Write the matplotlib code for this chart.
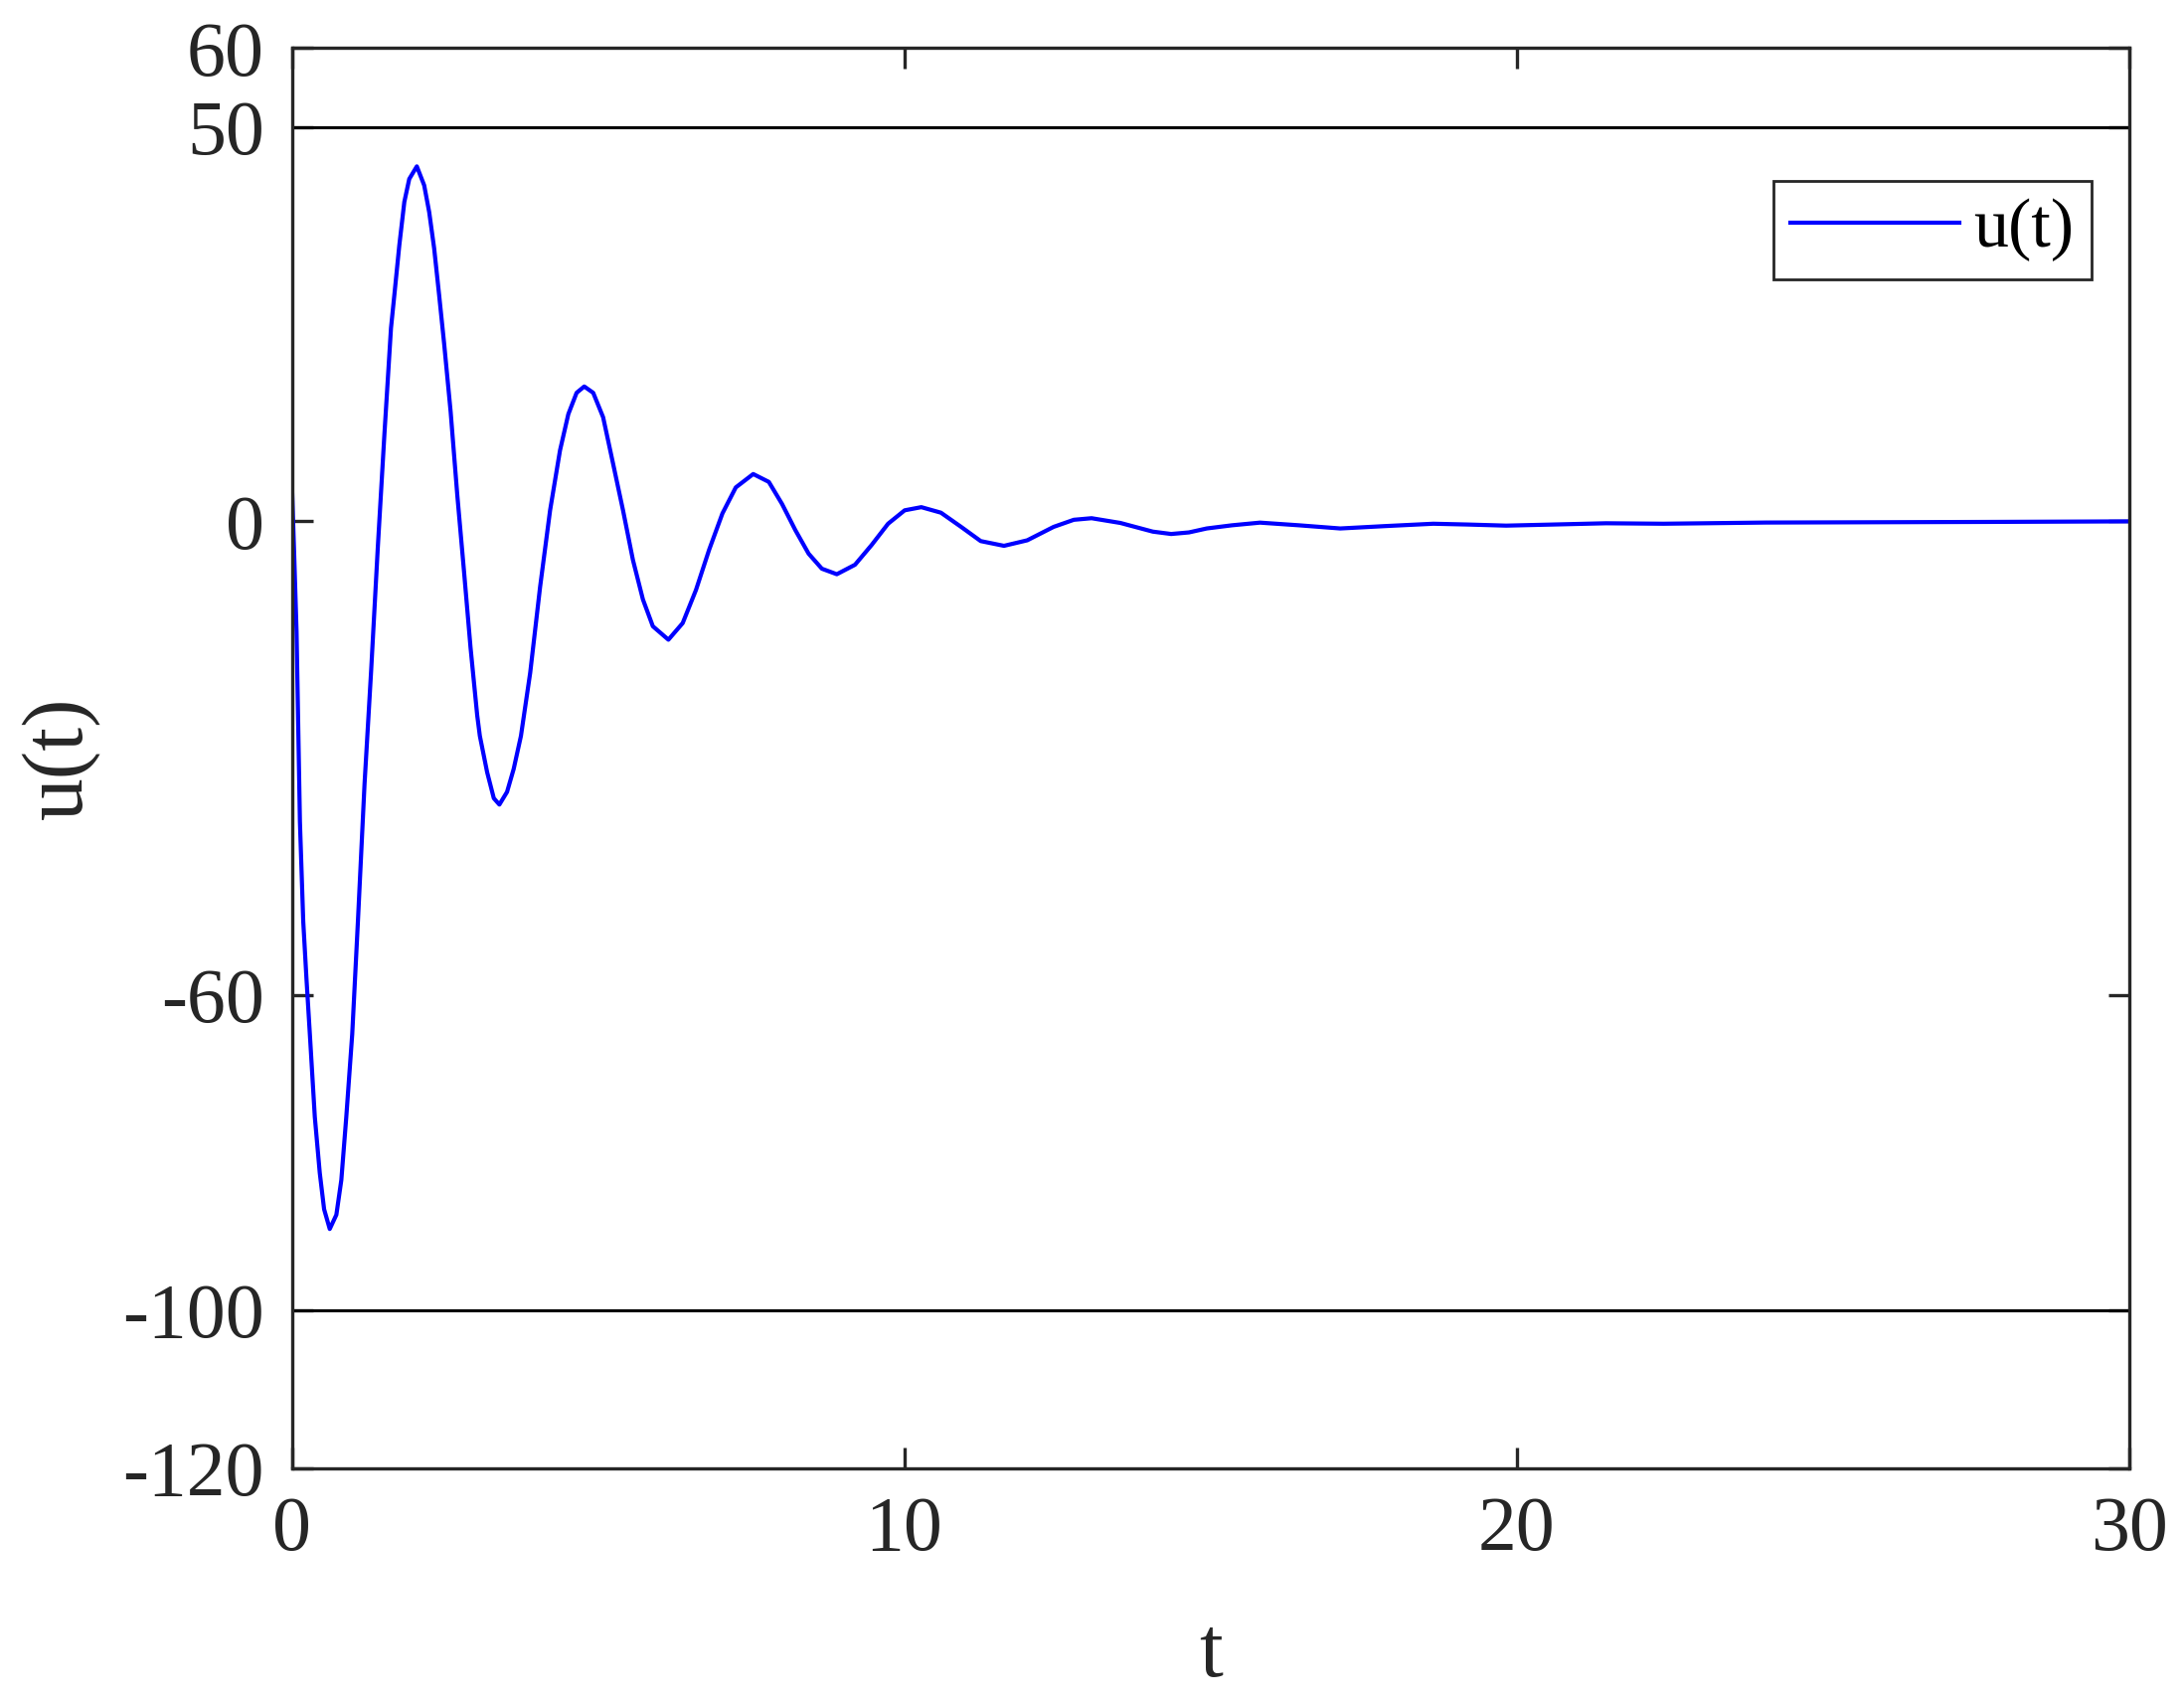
import numpy as np
import matplotlib
matplotlib.use("Agg")
import matplotlib.pyplot as plt

# values
t = [0, 0.04, 0.078, 0.133, 0.187, 0.24, 0.295, 0.376, 0.457, 0.528, 0.62, 0.728,
     0.809, 0.89, 0.987, 1.08, 1.188, 1.296, 1.404, 1.513, 1.62, 1.675, 1.756, 1.838,
     1.918, 2.042, 2.162, 2.244, 2.325, 2.406, 2.487, 2.594, 2.703, 2.812, 2.919, 3.028,
     3.071, 3.19, 3.299, 3.39, 3.515, 3.623, 3.742, 3.893, 4.055, 4.218, 4.38, 4.516,
     4.651, 4.776, 4.922, 5.084, 5.247, 5.409, 5.571, 5.734, 5.896, 6.15, 6.383, 6.6,
     6.815, 7.032, 7.25, 7.535, 7.79, 8.006, 8.222, 8.44, 8.656, 8.9, 9.197, 9.468,
     9.737, 10.008, 10.28, 10.6, 10.93, 11.25, 11.63, 12.01, 12.44, 12.77, 13.06, 13.53,
     14.06, 14.36, 14.65, 14.94, 15.35, 15.81, 16.45, 17.12, 17.85, 18.64, 19.2, 19.83,
     20.6, 21.46, 22.4, 24.07, 27.7, 30]
u = [5.3, -4.4, -14.0, -38.1, -50.7, -58.0, -65.0, -75.5, -82.6, -87.2, -89.7, -87.9,
     -83.5, -75.5, -65.0, -50.7, -33.3, -18.9, -3.4, 11.1, 24.5, 28.7, 35.0, 40.5,
     43.4, 45.0, 42.6, 39.2, 34.6, 28.7, 22.6, 13.9, 3.3, -6.3, -16.0, -24.6,
     -27.2, -31.8, -35.1, -35.9, -34.3, -31.4, -27.2, -19.2, -8.3, 1.4, 9.0, 13.6,
     16.3, 17.1, 16.3, 13.2, 7.3, 1.4, -4.9, -9.9, -13.3, -15.0, -12.9, -8.7,
     -3.6, 1.0, 4.3, 6.0, 5.0, 2.2, -1.1, -4.1, -6.0, -6.7, -5.5, -3.0,
     -0.3, 1.4, 1.8, 1.1, -0.7, -2.5, -3.1, -2.4, -0.7, 0.2, 0.4, -0.2,
     -1.3, -1.6, -1.4, -0.9, -0.5, -0.16, -0.5, -0.9, -0.6, -0.3, -0.4, -0.54,
     -0.4, -0.24, -0.3, -0.15, -0.07, 0.0]

u_max = 50
u_min = -100
x_ticks = [0, 10, 20, 30]
y_ticks = [-120, -100, -60, 0, 50, 60]

plt.rcParams['font.family'] = ['Liberation Serif', 'DejaVu Serif']
plt.rcParams['axes.unicode_minus'] = False
gray = '#262626'

fig = plt.figure(figsize=(2197 / 200, 1714 / 200), dpi=200)
ax = fig.add_axes([0.1336, 0.1385, 0.9748 - 0.1336, 0.9718 - 0.1385])

ax.plot(t, u, color='#0000ff', lw=1.5, label='u(t)')
ax.axhline(u_max, color='black', lw=1.1)
ax.axhline(u_min, color='black', lw=1.1)

ax.set_xlim(0, 30)
ax.set_ylim(-120, 60)
ax.set_xticks(x_ticks)
ax.set_yticks(y_ticks)
ax.tick_params(direction='in', top=True, right=True, length=7.6, width=1.2,
               colors=gray, labelsize=28, pad=10)
for s in ax.spines.values():
    s.set_color(gray)
    s.set_linewidth(1.2)

ax.set_xlabel('t', fontsize=30.8, color=gray, labelpad=18)
ax.set_ylabel('u(t)', fontsize=30.8, color=gray, labelpad=8)

leg = ax.legend(loc='upper right', bbox_to_anchor=(0.9796, 0.9066), borderaxespad=0,
                fontsize=25.2, fancybox=False, framealpha=1, edgecolor=gray,
                handlelength=2.43, handletextpad=0.2, borderpad=0.25)
leg.get_frame().set_linewidth(1.0)

fig.savefig('out.png', dpi=200)
